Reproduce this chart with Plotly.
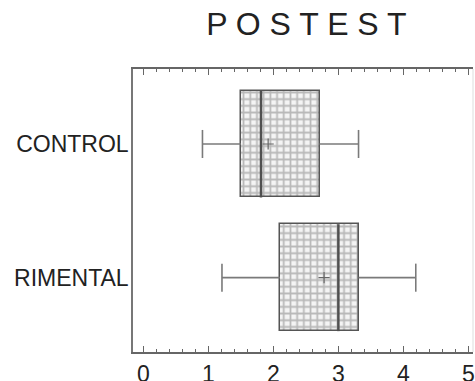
import plotly.graph_objects as go

# ---- data ----
categories = ["CONTROL", "RIMENTAL"]
cat_pos = [1, 0]
lower_whisker = [0.91, 1.21]
q1 = [1.50, 2.10]
median = [1.81, 3.00]
q3 = [2.71, 3.31]
upper_whisker = [3.31, 4.19]
mean = [1.92, 2.78]
x_ticks = [0, 1, 2, 3, 4, 5]

BOX_HALF = 0.4
CAP_HALF = 0.105
FONT = "Liberation Sans, Arial, sans-serif"

fig = go.Figure()

# boxes (hatched)
fig.add_trace(go.Bar(
    y=cat_pos, x=[b - a for a, b in zip(q1, q3)], base=q1, orientation="h",
    width=2 * BOX_HALF,
    marker=dict(color="#f4f4f4",
                line=dict(color="#555555", width=1.5),
                pattern=dict(shape="+", size=6.7, solidity=0.45,
                             fgcolor="#7c7c7c", bgcolor="#f4f4f4", fillmode="overlay")),
    showlegend=False, hoverinfo="skip"))

# whiskers + caps + medians
for c, lo, a, m, b, hi in zip(cat_pos, lower_whisker, q1, median, q3, upper_whisker):
    fig.add_trace(go.Scatter(
        x=[lo, a, None, b, hi, None, lo, lo, None, hi, hi],
        y=[c, c, None, c, c, None, c - CAP_HALF, c + CAP_HALF, None, c - CAP_HALF, c + CAP_HALF],
        mode="lines", line=dict(color="#7a7a7a", width=1.6),
        showlegend=False, hoverinfo="skip"))
    fig.add_trace(go.Scatter(
        x=[m, m], y=[c - BOX_HALF, c + BOX_HALF], mode="lines",
        line=dict(color="#505050", width=2.5), showlegend=False, hoverinfo="skip"))

# means
fig.add_trace(go.Scatter(
    x=mean, y=cat_pos, mode="markers",
    marker=dict(symbol="cross-thin", size=8, line=dict(color="#666666", width=1.2)),
    showlegend=False, hoverinfo="skip"))

fig.update_layout(
    width=475, height=381,
    margin=dict(l=133, r=2, t=69, b=29),
    plot_bgcolor="white", paper_bgcolor="white",
    title=dict(text="P O S T E S T", x=0.645, xanchor="center", y=0.937, yanchor="middle",
               font=dict(family=FONT, size=32, color="#222222")),
    xaxis=dict(range=[-0.158, 5.07], tickvals=x_ticks, ticks="inside", ticklen=6,
               tickcolor="#666666", tickwidth=1.2,
               minor=dict(dtick=0.2, ticks="inside", ticklen=3, tickcolor="#666666", tickwidth=1),
               showline=True, linecolor="#666666", linewidth=1.5, mirror="ticks",
               showgrid=False, zeroline=False, ticklabelstandoff=1,
               tickfont=dict(family=FONT, size=23, color="#222222"), automargin=False),
    yaxis=dict(range=[-0.556, 1.561], tickvals=cat_pos, ticktext=categories,
               ticks="", showline=True, linecolor="#777777", linewidth=1.5, mirror=False,
               showgrid=False, zeroline=False, ticklabelstandoff=-2,
               tickfont=dict(family=FONT, size=23, color="#222222"), automargin=False),
    shapes=[dict(type="line", xref="paper", yref="paper", x0=1, x1=1, y0=0, y1=1,
                 line=dict(color="#dddddd", width=1))],
    bargap=0,
)

fig.write_html("out.html", config={"displayModeBar": False},
               post_script="document.body.style.margin='0';")
